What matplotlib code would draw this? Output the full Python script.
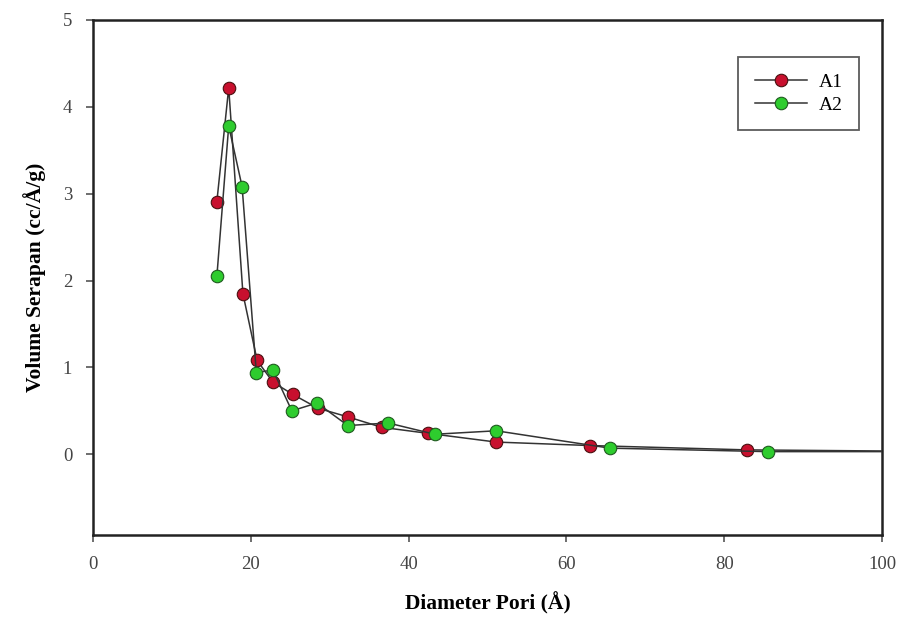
import matplotlib.pyplot as plt
import numpy as np

plt.rcParams['font.family'] = ['Liberation Serif', 'DejaVu Serif']

# datos
diam_a1 = [15.7, 17.2, 19.0, 20.8, 22.8, 25.3, 28.5, 32.3, 36.6, 42.5, 51.1, 63.0, 82.9, 110.0]
vol_a1 = [2.91, 4.22, 1.85, 1.08, 0.83, 0.69, 0.53, 0.43, 0.31, 0.24, 0.14, 0.10, 0.05, 0.03]

diam_a2 = [15.7, 17.2, 18.9, 20.7, 22.8, 25.2, 28.4, 32.3, 37.4, 43.3, 51.1, 65.5, 85.5, 110.0]
vol_a2 = [2.05, 3.78, 3.08, 0.94, 0.97, 0.50, 0.59, 0.33, 0.36, 0.23, 0.27, 0.07, 0.03, 0.03]

x_ticks = [0, 20, 40, 60, 80, 100]
y_ticks = [0, 1, 2, 3, 4, 5]

fig = plt.figure(figsize=(9.01, 6.19), dpi=100)
ax = fig.add_axes([0.1032, 0.1357, 0.8758, 0.8320])

ax.plot(diam_a1, vol_a1, color='#333333', lw=1.1, marker='o', ms=9,
        mfc='#c8102e', mec='#4a1010', mew=0.8, label='A1', zorder=3)
ax.plot(diam_a2, vol_a2, color='#333333', lw=1.1, marker='o', ms=9,
        mfc='#2ecc2e', mec='#1f5a1f', mew=0.8, label='A2', zorder=3)

ax.set_xlim(0, 100)
ax.set_ylim(-0.93, 5)
ax.set_xticks(x_ticks)
ax.set_yticks(y_ticks)
ax.tick_params(direction='out', length=5, width=1.2, labelsize=13.5,
               labelcolor='#444444', color='#555555', pad=10)

for s in ax.spines.values():
    s.set_linewidth(1.8)
    s.set_color('#222222')

ax.set_xlabel('Diameter Pori (Å)', fontsize=15.5, fontweight='bold', labelpad=14)
ax.set_ylabel('Volume Serapan (cc/Å/g)', fontsize=15.5, fontweight='bold', labelpad=12)

leg = ax.legend(loc='upper right', bbox_to_anchor=(0.971, 0.928), borderaxespad=0,
                fontsize=14, frameon=True, fancybox=False, edgecolor='#333333',
                borderpad=0.85, handlelength=2.7, labelspacing=0.25, handletextpad=0.6)
leg.get_frame().set_linewidth(1.3)

plt.savefig('out.png', dpi=100)
